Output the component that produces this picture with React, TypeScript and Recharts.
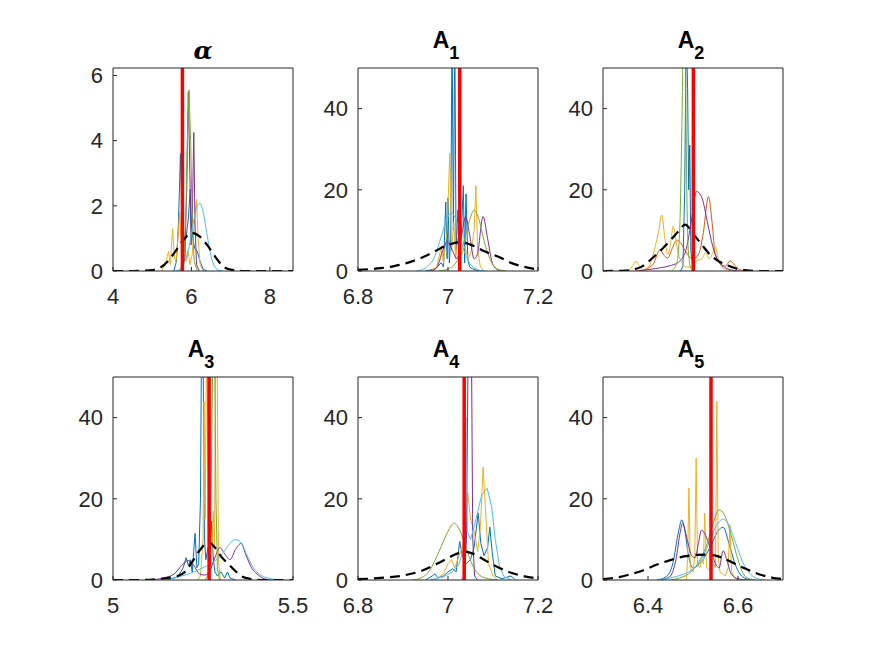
import { LineChart, Line, XAxis, YAxis, ReferenceLine } from "recharts";

type Pt = [number, number];

// ---- alpha ----
const alphaBlue: Pt[] = [[5.55,0],[5.62,0.3],[5.67,1.5],[5.72,3.6],[5.76,1.8],[5.8,0.9],[5.86,1.0],[5.92,1.6],[5.97,2.5],[6.01,1.2],[6.08,0.7],[6.15,0.6],[6.22,0.3],[6.3,0.05],[6.4,0]];
const alphaYellow: Pt[] = [[5.25,0],[5.35,0.3],[5.42,0.6],[5.46,0.2],[5.52,1.3],[5.56,0.5],[5.6,0.25],[5.65,0.9],[5.7,1.8],[5.74,0.9],[5.78,0.3],[5.83,0.9],[5.87,0.3],[5.92,0.6],[5.96,0.2],[6.02,0.5],[6.08,1.6],[6.13,2.2],[6.17,1.0],[6.22,0.2],[6.3,0]];
const alphaPurple: Pt[] = [[5.75,0],[5.83,0.4],[5.88,2.5],[5.92,5.5],[5.96,3.0],[5.99,0.8],[6.02,1.5],[6.06,4.25],[6.09,1.5],[6.13,0.2],[6.2,0]];
const alphaGreen: Pt[] = [[5.7,0],[5.8,0.3],[5.86,1.8],[5.9,4.2],[5.94,5.55],[5.98,4.0],[6.02,1.6],[6.07,0.3],[6.15,0]];
const alphaSky: Pt[] = [[5.6,0],[5.75,0.1],[5.85,0.35],[5.95,0.8],[6.05,1.5],[6.15,2.0],[6.22,2.08],[6.3,1.8],[6.4,1.1],[6.5,0.45],[6.6,0.12],[6.7,0.02],[6.8,0]];
const alphaPrior: Pt[] = [[4.0,0],[4.5,0],[4.8,0.01],[5.0,0.03],[5.2,0.1],[5.4,0.3],[5.6,0.62],[5.8,0.96],[6.0,1.17],[6.2,1.07],[6.4,0.8],[6.6,0.45],[6.8,0.15],[7.0,0.04],[7.3,0],[8.0,0],[8.59,0]];

// ---- A1 ----
const a1Blue: Pt[] = [[6.95,0],[6.97,0.5],[6.985,2],[6.99,1],[6.995,17],[6.998,3],[7.0,18],[7.003,2],[7.006,8],[7.009,60],[7.012,10],[7.015,60],[7.018,5],[7.022,15],[7.025,3],[7.03,10],[7.034,21],[7.037,2],[7.04,19],[7.044,3],[7.048,1],[7.055,0.5],[7.07,0]];
const a1Yellow: Pt[] = [[6.96,0],[6.975,1],[6.985,6],[6.99,2],[6.998,10],[7.004,29],[7.008,5],[7.013,12],[7.017,3],[7.022,8],[7.03,4],[7.037,6],[7.045,3],[7.052,5],[7.058,10],[7.062,21],[7.066,5],[7.072,1],[7.08,0]];
const a1Purple: Pt[] = [[6.96,0],[6.975,0.8],[6.988,5],[6.999,7.3],[7.01,5],[7.02,3],[7.03,8.5],[7.039,13.4],[7.048,9],[7.058,3],[7.065,4],[7.078,13.4],[7.088,8],[7.1,1.5],[7.115,0]];
const a1Green: Pt[] = [[6.98,0],[7.0,0.5],[7.02,2.5],[7.035,7],[7.048,12.5],[7.058,15],[7.068,13],[7.08,7.5],[7.095,2.5],[7.11,0.5],[7.13,0]];
const a1Sky: Pt[] = [[6.93,0],[6.95,0.8],[6.97,3.5],[6.985,8.5],[7.0,13.5],[7.008,14.3],[7.018,12.5],[7.03,7],[7.045,2.5],[7.06,0.6],[7.08,0]];
const a1Prior: Pt[] = [[6.8,0.3],[6.85,0.7],[6.88,1.2],[6.91,2.0],[6.94,3.2],[6.97,4.8],[6.995,6.2],[7.028,7.1],[7.05,6.5],[7.08,4.9],[7.116,3.3],[7.14,2.0],[7.17,1.0],[7.2,0.4]];

// ---- A2 ----
const a2Blue: Pt[] = [[6.515,0],[6.522,1],[6.527,20],[6.531,60],[6.535,45],[6.538,20],[6.541,31],[6.544,5],[6.55,0]];
const a2Orange: Pt[] = [[6.39,0],[6.42,0.5],[6.44,1.8],[6.458,5.2],[6.47,3.8],[6.48,3.2],[6.492,5.5],[6.505,7.6],[6.515,7],[6.525,5.5],[6.535,4],[6.55,3],[6.565,4],[6.578,9],[6.593,18.3],[6.603,12],[6.612,4],[6.625,2],[6.64,1.2],[6.653,2.5],[6.665,1.5],[6.68,0.3],[6.7,0]];
const a2Yellow: Pt[] = [[6.37,0],[6.38,1],[6.392,2.4],[6.402,1],[6.415,0.3],[6.43,1.5],[6.445,6],[6.455,10],[6.463,13.8],[6.472,8],[6.48,4],[6.488,7],[6.495,11],[6.502,8],[6.51,4],[6.52,2],[6.53,1],[6.545,1],[6.56,2.5],[6.575,3],[6.585,4.5],[6.595,3],[6.605,4.5],[6.612,6],[6.62,3],[6.63,1],[6.645,0.3],[6.66,0]];
const a2Purple: Pt[] = [[6.4,0],[6.43,0.4],[6.46,0.8],[6.49,1.4],[6.51,2.2],[6.53,5],[6.545,12],[6.56,19.6],[6.575,18],[6.59,12],[6.605,6],[6.62,2.5],[6.64,0.8],[6.66,0.2],[6.68,0]];
const a2Green: Pt[] = [[6.49,0],[6.505,2],[6.513,10],[6.519,35],[6.524,60],[6.528,60],[6.532,25],[6.537,5],[6.545,0.5],[6.555,0]];
const a2Prior: Pt[] = [[6.3,0],[6.35,0.05],[6.38,0.3],[6.41,1.2],[6.44,3.4],[6.465,5.5],[6.49,7.8],[6.51,9.8],[6.528,11.4],[6.55,9.2],[6.57,7.0],[6.6,3.8],[6.625,2.2],[6.645,1.4],[6.67,0.6],[6.7,0.15],[6.73,0],[6.8,0]];

// ---- A3 ----
const a3Blue: Pt[] = [[5.15,0],[5.18,0.8],[5.195,3],[5.203,5.5],[5.21,3.5],[5.215,5],[5.22,2],[5.228,11.5],[5.233,3],[5.238,4],[5.243,20],[5.246,60],[5.25,60],[5.254,10],[5.258,5],[5.264,8],[5.27,4],[5.274,14.5],[5.278,6],[5.283,2],[5.29,1],[5.3,2],[5.31,0.5],[5.318,2],[5.325,0.5],[5.34,0]];
const a3Yellow: Pt[] = [[5.235,0],[5.243,1],[5.25,10],[5.253,44],[5.256,15],[5.26,60],[5.263,40],[5.268,5],[5.273,3],[5.279,17],[5.282,8],[5.285,60],[5.289,60],[5.293,5],[5.298,0]];
const a3Purple: Pt[] = [[5.1,0],[5.14,0.5],[5.17,1.5],[5.19,3.5],[5.209,4.8],[5.225,3.5],[5.24,1.5],[5.255,1.2],[5.27,2.5],[5.285,6],[5.297,8],[5.31,6.5],[5.325,5],[5.34,7.5],[5.356,9],[5.37,6],[5.385,3],[5.4,1.5],[5.42,0.3],[5.44,0]];
const a3Green: Pt[] = [[5.255,0],[5.263,1],[5.27,6],[5.275,40],[5.278,60],[5.282,60],[5.286,20],[5.29,3],[5.296,0]];
const a3Sky: Pt[] = [[5.13,0],[5.17,0.5],[5.21,1.5],[5.25,3],[5.28,4.5],[5.3,6],[5.32,8.5],[5.339,9.95],[5.355,9.3],[5.37,6.5],[5.39,3],[5.41,1.2],[5.44,0.3],[5.47,0]];
const a3Prior: Pt[] = [[5.0,0],[5.08,0],[5.12,0.2],[5.15,0.5],[5.18,1.0],[5.2,2.0],[5.22,4.5],[5.24,7.2],[5.265,9.3],[5.285,7.8],[5.3,5.8],[5.32,4.0],[5.34,2.2],[5.36,0.8],[5.38,0.3],[5.42,0],[5.5,0]];

// ---- A4 ----
const a4Blue: Pt[] = [[6.95,0],[6.965,1],[6.971,1.5],[6.978,0.5],[6.99,1],[7.0,2],[7.011,2.8],[7.018,2],[7.026,9.5],[7.032,6],[7.04,4],[7.05,5],[7.058,8],[7.067,16.5],[7.073,9],[7.08,6],[7.088,8],[7.093,13],[7.098,7],[7.105,1],[7.12,0.3],[7.14,1],[7.15,0]];
const a4Yellow: Pt[] = [[6.97,0],[6.99,1.5],[7.0,4],[7.008,5],[7.015,3],[7.025,6],[7.035,9],[7.044,21.5],[7.05,15],[7.058,12],[7.066,7],[7.072,13],[7.078,27.8],[7.084,16],[7.09,4],[7.1,1],[7.11,0]];
const a4Purple: Pt[] = [[7.03,0],[7.037,1],[7.041,10],[7.045,60],[7.048,60],[7.052,60],[7.055,10],[7.059,1],[7.065,0]];
const a4Green: Pt[] = [[6.92,0],[6.94,0.5],[6.96,2.5],[6.98,7],[7.0,12],[7.013,14],[7.025,12.5],[7.04,8],[7.055,3.5],[7.07,1.2],[7.09,0.3],[7.11,0]];
const a4Sky: Pt[] = [[6.96,0],[6.99,0.8],[7.01,2],[7.025,4],[7.035,8],[7.04,40],[7.043,12],[7.05,10],[7.06,14],[7.075,21],[7.087,22.6],[7.097,18],[7.105,10],[7.115,3],[7.125,0.8],[7.14,0]];
const a4Prior: Pt[] = [[6.8,0.2],[6.85,0.5],[6.9,1.1],[6.94,2.2],[6.97,3.7],[7.0,5.4],[7.02,6.5],[7.036,7.0],[7.055,6.5],[7.08,5.0],[7.11,3.2],[7.14,1.8],[7.17,0.9],[7.2,0.4]];

// ---- A5 ----
const a5Blue: Pt[] = [[6.42,0],[6.44,0.8],[6.455,4],[6.468,12],[6.475,14.8],[6.482,12],[6.49,6],[6.5,3],[6.51,3.5],[6.525,5.5],[6.54,8.5],[6.555,12],[6.567,13],[6.58,9],[6.595,3.5],[6.61,0.8],[6.63,0]];
const a5Yellow: Pt[] = [[6.485,0],[6.488,5],[6.491,22.7],[6.494,3],[6.5,2],[6.504,6],[6.507,30],[6.51,4],[6.515,3],[6.52,5],[6.523,4],[6.526,16.5],[6.53,3],[6.535,2.5],[6.54,3],[6.545,4],[6.55,3],[6.553,44],[6.556,6],[6.56,2],[6.566,1.5],[6.572,1],[6.578,3],[6.582,13.5],[6.586,2],[6.592,0.5],[6.6,0]];
const a5Purple: Pt[] = [[6.43,0],[6.45,1],[6.462,5],[6.472,12],[6.477,14],[6.487,10],[6.497,6],[6.505,5.5],[6.512,9],[6.519,12.3],[6.528,11],[6.538,8],[6.55,4],[6.558,3],[6.567,7.2],[6.575,5],[6.585,1.5],[6.6,0.3],[6.62,0]];
const a5Green: Pt[] = [[6.45,0],[6.47,0.5],[6.49,1.5],[6.51,4],[6.53,8.5],[6.545,14],[6.558,17.3],[6.57,16],[6.585,11],[6.6,5],[6.612,1.5],[6.625,0.3],[6.64,0]];
const a5Sky: Pt[] = [[6.43,0],[6.46,0.8],[6.49,2],[6.515,4.5],[6.535,9],[6.55,13],[6.567,15],[6.58,13.5],[6.595,9],[6.61,4.5],[6.625,1.8],[6.64,0.5],[6.66,0]];
const a5Prior: Pt[] = [[6.3,0.2],[6.33,0.6],[6.36,1.4],[6.39,2.4],[6.42,3.8],[6.45,4.9],[6.48,5.8],[6.51,6.2],[6.527,6.25],[6.55,6.0],[6.575,5.0],[6.6,3.6],[6.625,2.4],[6.65,1.3],[6.675,0.6],[6.7,0.25]];

// true values (red lines)
const truths = [5.77, 7.026, 6.551, 5.267, 7.036, 6.54];

const C = {
  blue: "#0072BD",
  orange: "#D95319",
  yellow: "#EDB120",
  purple: "#7E2F8E",
  green: "#77AC30",
  sky: "#4DBEEE",
};

type Curve = { pts: Pt[]; color: string; smooth?: boolean };
type PanelDef = {
  title: string;
  sub?: string;
  left: number;
  top: number;
  xDomain: [number, number];
  xTicks: number[];
  yMax: number;
  yTicks: number[];
  curves: Curve[];
  prior: Pt[];
  truth: number;
};

const ax = "#262626";
const PW = 180;
const PH = 203;

const panels: PanelDef[] = [
  {
    title: "α", left: 113, top: 68, xDomain: [4, 8.59], xTicks: [4, 6, 8], yMax: 6.23, yTicks: [0, 2, 4, 6],
    curves: [
      { pts: alphaBlue, color: C.blue },
      { pts: alphaYellow, color: C.yellow },
      { pts: alphaPurple, color: C.purple },
      { pts: alphaGreen, color: C.green },
      { pts: alphaSky, color: C.sky, smooth: true },
    ],
    prior: alphaPrior, truth: truths[0],
  },
  {
    title: "A", sub: "1", left: 358, top: 68, xDomain: [6.8, 7.2], xTicks: [6.8, 7, 7.2], yMax: 50, yTicks: [0, 20, 40],
    curves: [
      { pts: a1Blue, color: C.blue },
      { pts: a1Yellow, color: C.yellow },
      { pts: a1Purple, color: C.purple, smooth: true },
      { pts: a1Green, color: C.green, smooth: true },
      { pts: a1Sky, color: C.sky, smooth: true },
    ],
    prior: a1Prior, truth: truths[1],
  },
  {
    title: "A", sub: "2", left: 603, top: 68, xDomain: [6.3, 6.8], xTicks: [], yMax: 50, yTicks: [0, 20, 40],
    curves: [
      { pts: a2Blue, color: C.blue },
      { pts: a2Orange, color: C.orange, smooth: true },
      { pts: a2Yellow, color: C.yellow, smooth: true },
      { pts: a2Purple, color: C.purple, smooth: true },
      { pts: a2Green, color: C.green, smooth: true },
    ],
    prior: a2Prior, truth: truths[2],
  },
  {
    title: "A", sub: "3", left: 113, top: 377, xDomain: [5, 5.5], xTicks: [5, 5.5], yMax: 50, yTicks: [0, 20, 40],
    curves: [
      { pts: a3Blue, color: C.blue },
      { pts: a3Yellow, color: C.yellow },
      { pts: a3Purple, color: C.purple, smooth: true },
      { pts: a3Green, color: C.green },
      { pts: a3Sky, color: C.sky, smooth: true },
    ],
    prior: a3Prior, truth: truths[3],
  },
  {
    title: "A", sub: "4", left: 358, top: 377, xDomain: [6.8, 7.2], xTicks: [6.8, 7, 7.2], yMax: 50, yTicks: [0, 20, 40],
    curves: [
      { pts: a4Blue, color: C.blue },
      { pts: a4Yellow, color: C.yellow },
      { pts: a4Purple, color: C.purple },
      { pts: a4Green, color: C.green, smooth: true },
      { pts: a4Sky, color: C.sky },
    ],
    prior: a4Prior, truth: truths[4],
  },
  {
    title: "A", sub: "5", left: 603, top: 377, xDomain: [6.3, 6.7], xTicks: [6.4, 6.6], yMax: 50, yTicks: [0, 20, 40],
    curves: [
      { pts: a5Blue, color: C.blue, smooth: true },
      { pts: a5Yellow, color: C.yellow },
      { pts: a5Purple, color: C.purple, smooth: true },
      { pts: a5Green, color: C.green, smooth: true },
      { pts: a5Sky, color: C.sky, smooth: true },
    ],
    prior: a5Prior, truth: truths[5],
  },
];

const toRows = (pts: Pt[]) => pts.map(([x, y]) => ({ x, y }));

function Panel({ p }: { p: PanelDef }) {
  const hasX = p.xTicks.length > 0;
  return (
    <div style={{ position: "absolute", left: p.left - 60, top: p.top - 40 }}>
      <LineChart width={60 + PW + 20} height={40 + PH + 40} margin={{ top: 39, right: 19, bottom: 0, left: 0 }}>
        <XAxis
          xAxisId="b" dataKey="x" type="number" domain={p.xDomain} ticks={hasX ? p.xTicks : undefined}
          allowDataOverflow interval={0} height={40} stroke={ax}
          tickSize={-4} tickMargin={21} tickLine={hasX} tick={hasX ? { fill: ax, fontSize: 22 } : false}
        />
        <XAxis
          xAxisId="t" orientation="top" dataKey="x" type="number" domain={p.xDomain} ticks={hasX ? p.xTicks : undefined}
          allowDataOverflow interval={0} height={1} stroke={ax} tickSize={-4} tickLine={hasX} tick={false}
        />
        <YAxis
          yAxisId="l" type="number" domain={[0, p.yMax]} ticks={p.yTicks} allowDataOverflow interval={0}
          width={60} stroke={ax} tickSize={-4} tickMargin={14} tick={{ fill: ax, fontSize: 22 }}
        />
        <YAxis
          yAxisId="r" orientation="right" type="number" domain={[0, p.yMax]} ticks={p.yTicks} allowDataOverflow
          interval={0} width={1} stroke={ax} tickSize={-4} tick={false}
        />
        {p.curves.map((c, i) => (
          <Line
            key={i} xAxisId="b" yAxisId="l" data={toRows(c.pts)} dataKey="y"
            type={c.smooth ? "monotone" : "linear"} stroke={c.color} strokeWidth={1}
            dot={false} activeDot={false} isAnimationActive={false}
          />
        ))}
        <Line
          xAxisId="b" yAxisId="l" data={toRows(p.prior)} dataKey="y" type="monotone"
          stroke="#000" strokeWidth={2.2} strokeDasharray="10 6" dot={false} activeDot={false} isAnimationActive={false}
        />
        <ReferenceLine xAxisId="b" yAxisId="l" x={p.truth} stroke="#FF0000" strokeWidth={3.5} />
      </LineChart>
    </div>
  );
}

export default function App() {
  return (
    <div style={{ position: "absolute", left: 0, top: 0, width: 872, height: 654, background: "#fff", fontFamily: "'Liberation Sans', Arial, sans-serif" }}>
      {panels.map((p, i) => (
        <Panel key={i} p={p} />
      ))}
      <svg width={872} height={654} style={{ position: "absolute", left: 0, top: 0, pointerEvents: "none" }}>
        {panels.map((p, i) =>
          p.sub ? (
            <text key={i} x={p.left + PW / 2 - 2} y={p.top - 20} textAnchor="middle" fontWeight="bold" fontSize={23} fill="#000">
              {p.title}
              <tspan dy={11} fontSize={18}>{p.sub}</tspan>
            </text>
          ) : (
            <text key={i} x={p.left + PW / 2} y={p.top - 9} textAnchor="middle" fontWeight="bold" fontSize={25}
              fontFamily="'DejaVu Serif', serif" fontStyle="italic" fill="#000">
              {p.title}
            </text>
          )
        )}
      </svg>
    </div>
  );
}
